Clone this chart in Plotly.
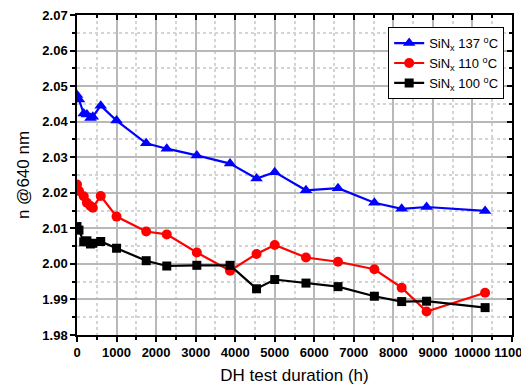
import plotly.graph_objects as go

# DH test duration (h)
hours = [0, 50, 170, 250, 340, 400, 600, 1000, 1750, 2270, 3030, 3870,
         4540, 5000, 5790, 6600, 7520, 8210, 8840, 10320]

# refractive index at 640 nm
n_137 = [2.0475, 2.0462, 2.0423, 2.0420, 2.0410, 2.0414, 2.0445, 2.0403,
         2.0339, 2.0324, 2.0305, 2.0282, 2.0240, 2.0258, 2.0207, 2.0213,
         2.0172, 2.0155, 2.0160, 2.0149]
n_110 = [2.0223, 2.0205, 2.0190, 2.0172, 2.0163, 2.0158, 2.0191, 2.0133,
         2.0091, 2.0083, 2.0032, 1.9981, 2.0028, 2.0053, 2.0018, 2.0006,
         1.9985, 1.9933, 1.9866, 1.9919]
n_100 = [2.0105, 2.0095, 2.0062, 2.0065, 2.0056, 2.0058, 2.0063, 2.0044,
         2.0009, 1.9994, 1.9996, 1.9996, 1.9930, 1.9956, 1.9946, 1.9936,
         1.9909, 1.9894, 1.9895, 1.9877]

names = ["SiN<sub>x</sub> 137 <sup>o</sup>C",
         "SiN<sub>x</sub> 110 <sup>o</sup>C",
         "SiN<sub>x</sub> 100 <sup>o</sup>C"]
colors = ["#0000ff", "#ff0000", "#000000"]
symbols = ["triangle-up", "circle", "square"]
sizes = [11, 10, 9]

FONT = "Liberation Sans, Arial, sans-serif"

fig = go.Figure()
for y, name, c, s, sz in zip([n_137, n_110, n_100], names, colors, symbols, sizes):
    fig.add_trace(go.Scatter(x=hours, y=y, name=name, mode="lines+markers",
                             line=dict(color=c, width=2.2),
                             marker=dict(symbol=s, size=sz, color=c)))

tickfont = dict(family=FONT, size=13, color="black", weight="bold")
grid = dict(showgrid=True, gridcolor="#b8b8b8", gridwidth=1.5)

# page body has an 8px margin, so the figure is sized/offset to compensate
fig.update_layout(
    width=521, height=381,
    margin=dict(l=69, r=17, t=7, b=54),
    plot_bgcolor="white", paper_bgcolor="white",
    font=dict(family=FONT, color="black"),
    showlegend=True,
    legend=dict(x=0.982, y=0.962, xanchor="right", yanchor="top",
                bordercolor="black", borderwidth=1, bgcolor="white",
                font=dict(size=13, family=FONT),
                tracegroupgap=0, itemwidth=30),
    xaxis=dict(range=[0, 11000], dtick=1000, tickformat="d", tickfont=tickfont,
               ticklabeloverflow="allow",
               title=dict(text="DH test duration (h)", font=dict(size=17), standoff=10),
               ticks="outside", ticklen=5, tickwidth=1.5, tickcolor="black",
               showline=True, linecolor="black", linewidth=1.5, automargin=False,
               zeroline=False, **grid,
               minor=dict(dtick=500, ticks="outside", ticklen=3, tickcolor="black",
                          showgrid=True, gridcolor="#d4d4d4", griddash="dot")),
    yaxis=dict(range=[1.98, 2.07], dtick=0.01, tickformat=".2f", tickfont=tickfont,
               ticklabeloverflow="allow",
               title=dict(text="n @640 nm", font=dict(size=17), standoff=8),
               ticks="outside", ticklen=5, tickwidth=1.5, tickcolor="black",
               showline=True, linecolor="black", linewidth=1.5, automargin=False,
               zeroline=False, **grid,
               minor=dict(dtick=0.005, ticks="outside", ticklen=3, tickcolor="black",
                          showgrid=True, gridcolor="#d4d4d4", griddash="dot")),
    xaxis2=dict(overlaying="x", side="top", matches="x", range=[0, 11000], dtick=1000,
                showticklabels=False, ticks="inside", ticklen=5, tickwidth=1.5,
                tickcolor="black", showline=True, linecolor="black", linewidth=1.5,
                showgrid=False, zeroline=False, automargin=False,
                minor=dict(dtick=500, ticks="inside", ticklen=3, tickcolor="black")),
    yaxis2=dict(overlaying="y", side="right", range=[1.98, 2.07], dtick=0.01,
                showticklabels=False, ticks="inside", ticklen=5, tickwidth=1.5,
                tickcolor="black", showline=True, linecolor="black", linewidth=1.5,
                showgrid=False, zeroline=False, automargin=False,
                minor=dict(dtick=0.005, ticks="inside", ticklen=3, tickcolor="black")),
)

# invisible trace to activate the mirrored top/right axes
fig.add_trace(go.Scatter(x=[None], y=[None], xaxis="x2", yaxis="y2",
                         showlegend=False, hoverinfo="skip"))

fig.write_html("out.html")
